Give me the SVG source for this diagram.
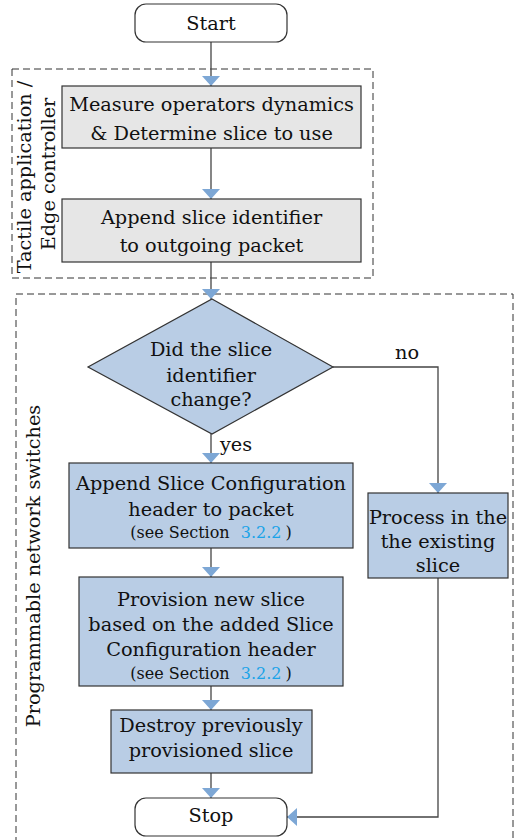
<svg xmlns="http://www.w3.org/2000/svg" width="515" height="840" viewBox="0 0 515 840">
<defs>
<style>
text{font-family:"DejaVu Serif","Liberation Serif",serif;font-size:19.3px;fill:#111;text-anchor:middle;dominant-baseline:central}
.small{font-size:16px}
.link{fill:#1aa3e8}
.term{fill:#fff;stroke:#333;stroke-width:1.2}
.grey{fill:#e6e6e6;stroke:#333;stroke-width:1.2}
.blue{fill:#b9cde5;stroke:#333;stroke-width:1.2}
.group{fill:none;stroke:#333;stroke-width:1;stroke-dasharray:7 4}
.edge{fill:none;stroke:#444;stroke-width:1.3;marker-end:url(#arr)}
</style>
<marker id="arr" markerUnits="userSpaceOnUse" markerWidth="10" markerHeight="18" refX="10" refY="9" orient="auto">
<path d="M0,0 L10,9 L0,18 z" fill="#7da7d5"/>
</marker>
</defs>
<rect width="515" height="840" fill="#fff"/>
<g id="groups">
<rect class="group" x="12" y="69" width="361" height="209"/>
<rect class="group" x="16" y="294" width="497" height="570"/>
<text transform="translate(24,177) rotate(-90)">Tactile application /</text>
<text transform="translate(48,174) rotate(-90)">Edge controller</text>
<text transform="translate(33,566) rotate(-90)">Programmable network switches</text>
</g>
<g id="connectors">
<path class="edge" d="M211,42 V86"/>
<path class="edge" d="M211,148 V199"/>
<path class="edge" d="M211,262 V299"/>
<path class="edge" d="M211,434 V463"/>
<path class="edge" d="M211,548 V577"/>
<path class="edge" d="M211,686 V710"/>
<path class="edge" d="M211,773 V798"/>
<path class="edge" d="M333,367 H438 V493"/>
<path class="edge" d="M438,578 V817 H287"/>
<text x="407" y="352">no</text>
<text x="236" y="444">yes</text>
</g>
<g id="start">
<rect class="term" x="135" y="4" width="152" height="38" rx="11"/>
<text x="211" y="23">Start</text>
</g>
<g id="measure">
<rect class="grey" x="62" y="86" width="299" height="62"/>
<text x="211.5" y="104">Measure operators dynamics</text>
<text x="211.5" y="133">&amp; Determine slice to use</text>
</g>
<g id="append-id">
<rect class="grey" x="62" y="199" width="299" height="63"/>
<text x="211.5" y="217">Append slice identifier</text>
<text x="211.5" y="245">to outgoing packet</text>
</g>
<g id="decision">
<polygon class="blue" points="212,299 333,367 212,434 88,367"/>
<text x="211" y="349">Did the slice</text>
<text x="211" y="375">identifier</text>
<text x="211" y="399">change?</text>
</g>
<g id="append-config">
<rect class="blue" x="69" y="463" width="284" height="85"/>
<text x="211" y="483">Append Slice Configuration</text>
<text x="211" y="509">header to packet</text>
<text class="small" x="211" y="532">(see Section <tspan class="link" dx="6">3.2.2</tspan><tspan dx="4">)</tspan></text>
</g>
<g id="provision">
<rect class="blue" x="79" y="577" width="264" height="109"/>
<text x="211" y="599">Provision new slice</text>
<text x="211" y="624">based on the added Slice</text>
<text x="211" y="649">Configuration header</text>
<text class="small" x="211" y="673">(see Section <tspan class="link" dx="6">3.2.2</tspan><tspan dx="4">)</tspan></text>
</g>
<g id="destroy">
<rect class="blue" x="111" y="710" width="201" height="63"/>
<text x="211" y="725">Destroy previously</text>
<text x="211" y="750">provisioned slice</text>
</g>
<g id="process">
<rect class="blue" x="368" y="493" width="140" height="85"/>
<text x="438" y="517">Process in the</text>
<text x="438" y="541">the existing</text>
<text x="438" y="565">slice</text>
</g>
<g id="stop">
<rect class="term" x="135" y="798" width="152" height="38" rx="11"/>
<text x="211" y="815">Stop</text>
</g>
</svg>
